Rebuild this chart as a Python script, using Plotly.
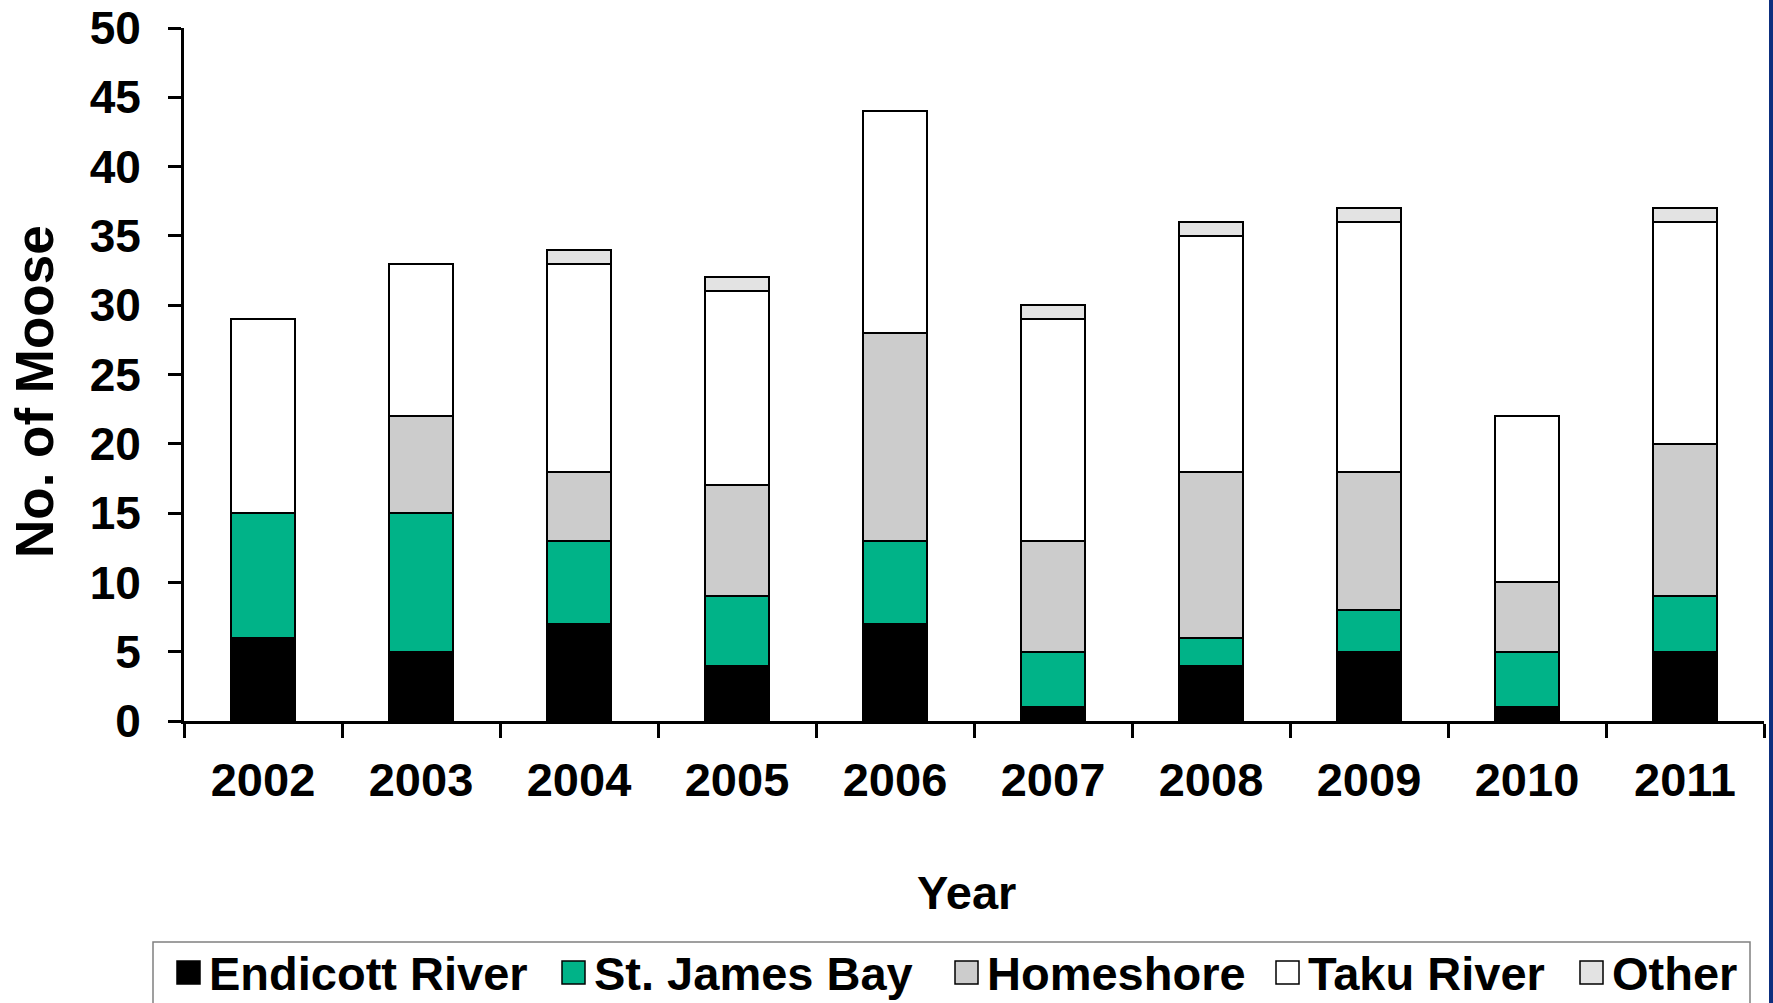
import plotly.graph_objects as go

years = ["2002", "2003", "2004", "2005", "2006", "2007", "2008", "2009", "2010", "2011"]
endicott = [6, 5, 7, 4, 7, 1, 4, 5, 1, 5]
st_james = [9, 10, 6, 5, 6, 4, 2, 3, 4, 4]
homeshore = [0, 7, 5, 8, 15, 8, 12, 10, 5, 11]
taku = [14, 11, 15, 14, 16, 16, 17, 18, 12, 16]
other = [0, 0, 1, 1, 0, 1, 1, 1, 0, 1]

series_names = ["Endicott River", "St. James Bay", "Homeshore", "Taku River", "Other"]
series_values = [endicott, st_james, homeshore, taku, other]
series_colors = ["#000000", "#00b388", "#cccccc", "#ffffff", "#e3e3e3"]

W, H = 1773, 1003
L, R, T, B = 184, 9, 28, 282
PW, PH = W - L - R, H - T - B
FONT = "Liberation Sans, Arial, sans-serif"


def px_x(x):
    return (x - L) / PW


def px_y(y):
    return (H - B - y) / PH


fig = go.Figure()
for name, vals, col in zip(series_names, series_values, series_colors):
    fig.add_trace(go.Bar(
        x=years, y=vals, name=name,
        marker=dict(color=col, line=dict(color="#000000", width=2)),
        showlegend=False,
    ))

fig.update_layout(
    width=W, height=H,
    barmode="stack", bargap=0.59,
    plot_bgcolor="white", paper_bgcolor="white",
    margin=dict(l=L, r=R, t=T, b=B),
    font=dict(family=FONT, color="black"),
    xaxis=dict(
        showline=True, linecolor="black", linewidth=3,
        ticks="outside", ticklen=14, tickwidth=3, tickcolor="black",
        tickson="boundaries", ticklabelstandoff=16,
        tickfont=dict(size=47, weight="bold"),
        showgrid=False, zeroline=False, automargin=False,
    ),
    yaxis=dict(
        range=[0, 50], dtick=5,
        showline=True, linecolor="black", linewidth=3,
        ticks="outside", ticklen=13, tickwidth=3, tickcolor="black",
        ticklabelstandoff=18,
        tickfont=dict(size=46, weight="bold"),
        showgrid=False, zeroline=False, automargin=False,
    ),
)

# axis titles
fig.add_annotation(text="Year", x=px_x(966), y=px_y(892), xref="paper", yref="paper",
                   xanchor="center", yanchor="middle",
                   showarrow=False, font=dict(size=47, weight="bold"))
fig.add_annotation(text="No. of Moose", x=px_x(34), y=px_y(392), xref="paper", yref="paper",
                   xanchor="center", yanchor="middle",
                   showarrow=False, textangle=-90, font=dict(size=53, weight="bold"))

# legend box drawn by hand
fig.add_shape(type="rect", xref="paper", yref="paper",
              x0=px_x(153), x1=px_x(1750), y0=px_y(1015), y1=px_y(942),
              line=dict(color="#808080", width=1.5), fillcolor="white", layer="below")
sq_left = [177, 562, 955, 1276, 1580]
for name, col, xl in zip(series_names, series_colors, sq_left):
    fig.add_shape(type="rect", xref="paper", yref="paper",
                  x0=px_x(xl), x1=px_x(xl + 23), y0=px_y(984), y1=px_y(961),
                  line=dict(color="#000000", width=1.5), fillcolor=col)
    fig.add_annotation(text=name, x=px_x(xl + 30), y=px_y(973), xref="paper", yref="paper",
                       xanchor="left", yanchor="middle",
                       showarrow=False, font=dict(size=47, weight="bold"))

# dark blue strip at the right edge
fig.add_shape(type="rect", xref="paper", yref="paper",
              x0=px_x(1769), x1=px_x(1776), y0=px_y(-5), y1=px_y(1010),
              line=dict(width=0), fillcolor="#0d2f7f")

fig.write_html("out.html", config={"displayModeBar": False},
               post_script="document.body.style.margin='0';document.body.style.overflow='hidden';")
